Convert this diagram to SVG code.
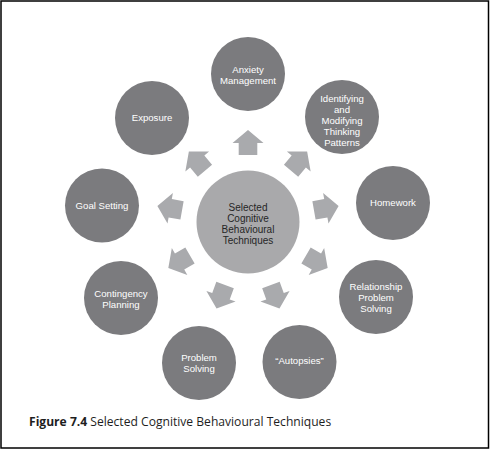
<svg xmlns="http://www.w3.org/2000/svg" width="490" height="450" viewBox="0 0 490 450">
<defs>
<style>
.node{fill:#7b7b7e}
.hub{fill:#a9a9ab}
.arrow{fill:#a9aaad}
.lbl{font-family:"Liberation Sans",Arial,sans-serif;font-size:9.6px;fill:#ffffff;text-anchor:middle}
.hubl{font-family:"Liberation Sans",Arial,sans-serif;font-size:10px;fill:#262626;text-anchor:middle}
.cap{font-family:"Open Sans","Noto Sans",sans-serif;font-size:12.1px;fill:#1e1e1e}
</style>
<path id="arr" d="M0,-92 L15.5,-79 L9.3,-79 L9.3,-67 L-9.3,-67 L-9.3,-79 L-15.5,-79 Z"/>
</defs>
<rect x="1" y="1" width="487.5" height="447" fill="#ffffff" stroke="#000000" stroke-width="1.5"/>
<g id="connectors" class="arrow">
<use href="#arr" transform="translate(248,222) rotate(0)"/>
<use href="#arr" transform="translate(248,222) rotate(40)"/>
<use href="#arr" transform="translate(248,222) rotate(80)"/>
<use href="#arr" transform="translate(248,222) rotate(120)"/>
<use href="#arr" transform="translate(248,222) rotate(160)"/>
<use href="#arr" transform="translate(248,222) rotate(200)"/>
<use href="#arr" transform="translate(248,222) rotate(240)"/>
<use href="#arr" transform="translate(248,222) rotate(280)"/>
<use href="#arr" transform="translate(248,222) rotate(320)"/>
</g>
<g id="hub">
<circle class="hub" cx="248" cy="222" r="51.5"/>
<text class="hubl" x="248" y="211">Selected</text>
<text class="hubl" x="248" y="222">Cognitive</text>
<text class="hubl" x="248" y="233">Behavioural</text>
<text class="hubl" x="248" y="244">Techniques</text>
</g>
<g id="anxiety">
<circle class="node" cx="248" cy="74" r="37"/>
<text class="lbl" x="248" y="73">Anxiety</text>
<text class="lbl" x="248" y="84">Management</text>
</g>
<g id="identifying">
<circle class="node" cx="342" cy="117" r="37"/>
<text class="lbl" x="342" y="101.5">Identifying</text>
<text class="lbl" x="342" y="112.5">and</text>
<text class="lbl" x="342" y="123.5">Modifying</text>
<text class="lbl" x="342" y="134.5">Thinking</text>
<text class="lbl" x="342" y="145.5">Patterns</text>
</g>
<g id="homework">
<circle class="node" cx="393" cy="203" r="37"/>
<text class="lbl" x="393" y="206">Homework</text>
</g>
<g id="relationship">
<circle class="node" cx="376" cy="297" r="37"/>
<text class="lbl" x="376" y="290">Relationship</text>
<text class="lbl" x="376" y="301">Problem</text>
<text class="lbl" x="376" y="312">Solving</text>
</g>
<g id="autopsies">
<circle class="node" cx="299.5" cy="362" r="37"/>
<text class="lbl" x="299.5" y="364">“Autopsies”</text>
</g>
<g id="problem">
<circle class="node" cx="199" cy="363" r="37"/>
<text class="lbl" x="199" y="361">Problem</text>
<text class="lbl" x="199" y="372">Solving</text>
</g>
<g id="contingency">
<circle class="node" cx="121" cy="298" r="37"/>
<text class="lbl" x="121" y="296.5">Contingency</text>
<text class="lbl" x="121" y="307.5">Planning</text>
</g>
<g id="goal">
<circle class="node" cx="102" cy="205.5" r="37"/>
<text class="lbl" x="102" y="208.5">Goal Setting</text>
</g>
<g id="exposure">
<circle class="node" cx="152" cy="118" r="37"/>
<text class="lbl" x="152" y="121">Exposure</text>
</g>
<text class="cap" x="29" y="426"><tspan font-weight="bold">Figure 7.4</tspan> Selected Cognitive Behavioural Techniques</text>
</svg>
